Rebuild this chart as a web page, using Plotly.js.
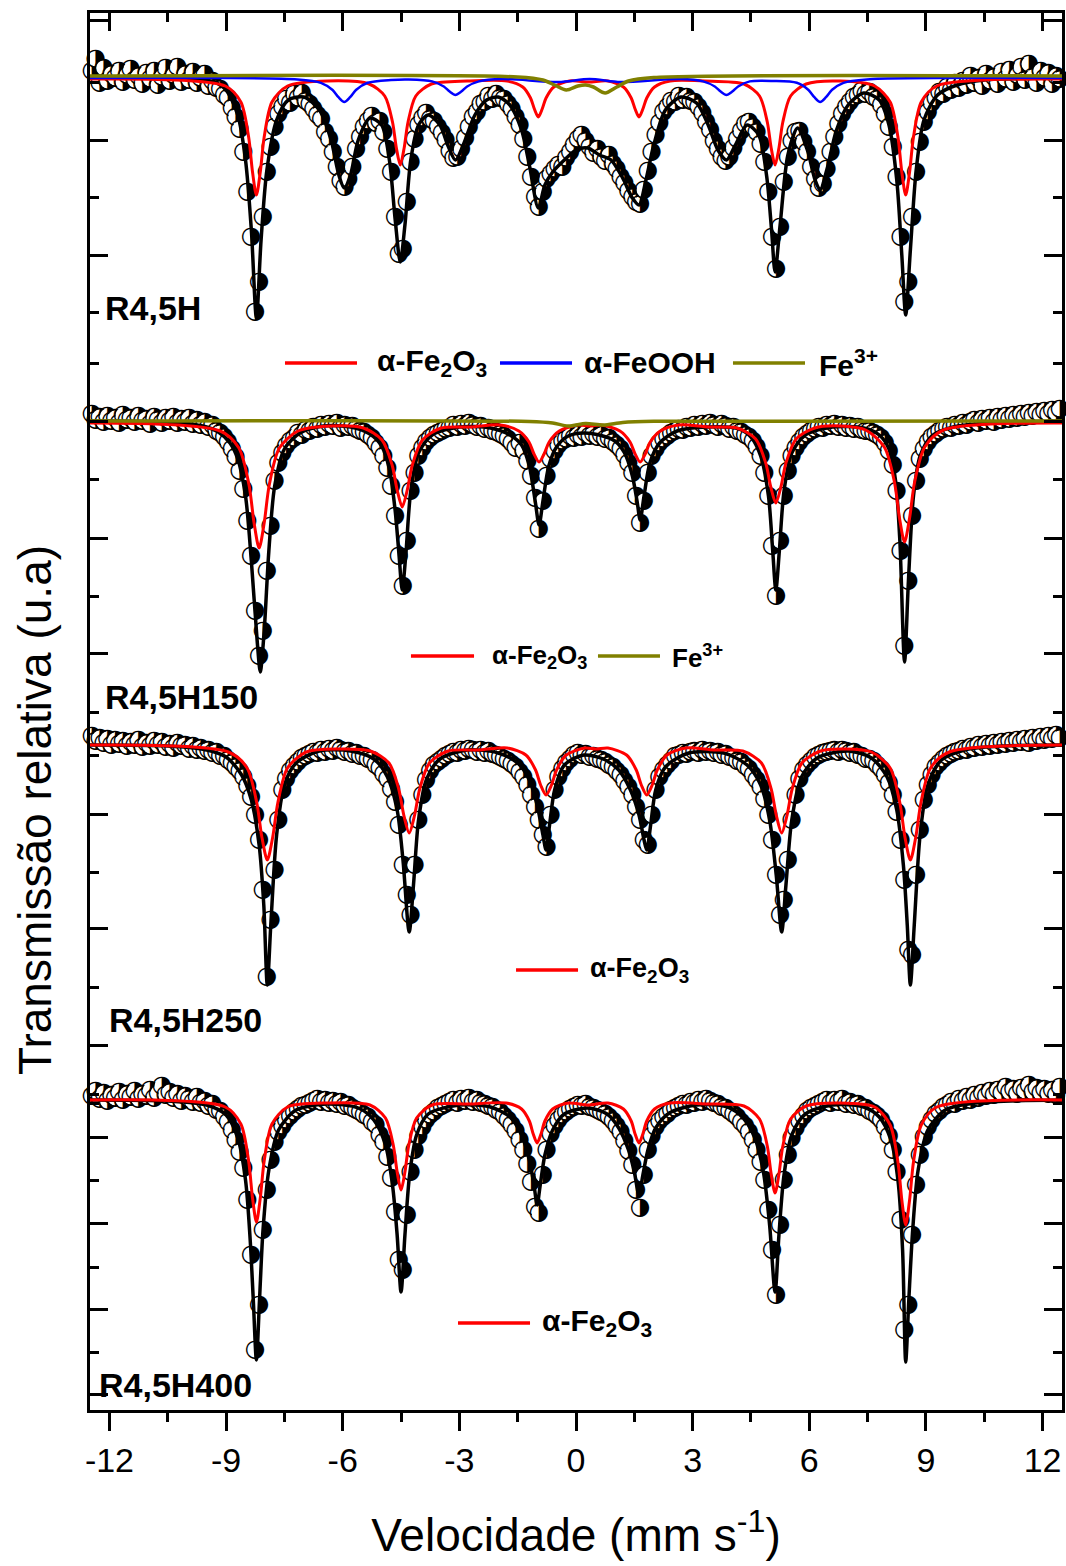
<!DOCTYPE html>
<html><head><meta charset="utf-8">
<script src="https://cdn.plot.ly/plotly-3.0.1.min.js"></script>
<style>body{margin:0;background:#fff}#chart{width:1066px;height:1566px}</style>
</head><body><div id="chart"></div>
<script>
// ---------- data (relative transmission, arbitrary units; baseline = 100) ----------
const velocity = [
-12.45,-12.35,-12.25,-12.15,-12.05,-11.95,-11.85,-11.75,-11.65,-11.55,
-11.45,-11.35,-11.25,-11.15,-11.05,-10.95,-10.85,-10.75,-10.65,-10.55,
-10.45,-10.35,-10.25,-10.15,-10.05,-9.95,-9.85,-9.75,-9.65,-9.55,
-9.45,-9.35,-9.25,-9.15,-9.05,-8.95,-8.85,-8.75,-8.65,-8.55,
-8.45,-8.35,-8.25,-8.15,-8.05,-7.95,-7.85,-7.75,-7.65,-7.55,
-7.45,-7.35,-7.25,-7.15,-7.05,-6.95,-6.85,-6.75,-6.65,-6.55,
-6.45,-6.35,-6.25,-6.15,-6.05,-5.95,-5.85,-5.75,-5.65,-5.55,
-5.45,-5.35,-5.25,-5.15,-5.05,-4.95,-4.85,-4.75,-4.65,-4.55,
-4.45,-4.35,-4.25,-4.15,-4.05,-3.95,-3.85,-3.75,-3.65,-3.55,
-3.45,-3.35,-3.25,-3.15,-3.05,-2.95,-2.85,-2.75,-2.65,-2.55,
-2.45,-2.35,-2.25,-2.15,-2.05,-1.95,-1.85,-1.75,-1.65,-1.55,
-1.45,-1.35,-1.25,-1.15,-1.05,-0.95,-0.85,-0.75,-0.65,-0.55,
-0.45,-0.35,-0.25,-0.15,-0.05,0.05,0.15,0.25,0.35,0.45,
0.55,0.65,0.75,0.85,0.95,1.05,1.15,1.25,1.35,1.45,
1.55,1.65,1.75,1.85,1.95,2.05,2.15,2.25,2.35,2.45,
2.55,2.65,2.75,2.85,2.95,3.05,3.15,3.25,3.35,3.45,
3.55,3.65,3.75,3.85,3.95,4.05,4.15,4.25,4.35,4.45,
4.55,4.65,4.75,4.85,4.95,5.05,5.15,5.25,5.35,5.45,
5.55,5.65,5.75,5.85,5.95,6.05,6.15,6.25,6.35,6.45,
6.55,6.65,6.75,6.85,6.95,7.05,7.15,7.25,7.35,7.45,
7.55,7.65,7.75,7.85,7.95,8.05,8.15,8.25,8.35,8.45,
8.55,8.65,8.75,8.85,8.95,9.05,9.15,9.25,9.35,9.45,
9.55,9.65,9.75,9.85,9.95,10.05,10.15,10.25,10.35,10.45,
10.55,10.65,10.75,10.85,10.95,11.05,11.15,11.25,11.35,11.45,
11.55,11.65,11.75,11.85,11.95,12.05,12.15,12.25,12.35,12.45];

const transR45H = [
100.6,101.8,99.4,100.9,99.6,100.3,99.9,100.6,99.5,100.2,
100.8,99.7,100.1,99.3,100.4,99.8,100.6,99.2,100.0,100.9,
99.6,100.2,101.0,99.5,100.3,99.7,100.5,99.4,99.9,100.3,
99.1,99.6,98.9,98.8,98.2,97.9,96.9,96.0,94.8,92.5,
88.5,84.0,76.5,79.5,86.0,90.5,93.0,95.0,96.3,97.0,
97.8,97.4,98.3,97.9,98.4,97.6,97.3,96.8,96.2,95.8,
94.5,93.8,92.5,91.0,89.6,89.0,89.8,91.0,92.8,94.0,
95.0,95.6,96.1,95.4,95.6,94.5,92.8,90.5,86.0,82.3,
82.8,87.5,91.5,93.8,95.2,95.9,96.4,95.8,95.6,95.0,
94.4,93.7,92.6,91.9,92.0,92.8,93.9,95.0,96.0,96.5,
97.3,97.5,98.1,97.8,98.3,97.9,97.8,97.3,96.8,96.0,
95.2,93.8,92.0,90.0,88.0,87.0,88.5,89.8,90.3,90.8,
91.2,91.0,91.9,92.5,93.2,93.8,94.2,93.6,93.0,92.4,
92.8,92.0,91.6,92.2,91.3,90.8,90.0,89.4,88.6,88.0,
87.5,87.3,88.7,90.6,92.5,94.2,95.4,96.5,97.0,97.6,
97.5,98.1,97.7,98.0,97.6,97.5,97.0,96.4,95.5,94.7,
93.6,92.8,92.0,91.6,92.0,92.9,93.8,94.6,95.3,95.5,
95.0,94.5,93.3,91.5,88.5,84.0,80.8,85.0,89.5,92.0,
93.6,94.5,94.6,93.5,92.5,91.0,89.8,88.9,89.3,90.8,
92.5,94.0,95.3,96.3,97.0,97.5,98.0,98.2,98.6,98.3,
98.5,98.0,97.8,97.2,96.3,95.0,93.0,90.0,84.0,77.5,
79.5,86.0,90.5,93.5,95.5,96.5,97.4,97.9,98.5,98.3,
99.0,98.7,99.4,98.9,99.6,99.2,100.1,99.4,99.9,99.1,
100.3,99.6,100.0,99.3,100.5,99.8,100.7,99.5,100.2,101.0,
99.7,101.3,100.0,99.4,100.6,99.9,100.4,99.3,100.1,99.8];

const transR45H150 = [
100.7,100.1,100.4,99.9,100.5,100.0,100.3,99.8,100.6,100.1,
100.3,99.9,100.5,100.0,100.2,99.7,100.4,100.1,99.8,100.3,
100.0,100.4,99.8,100.2,99.9,100.3,99.7,100.1,99.6,99.9,
99.4,99.6,99.0,98.8,98.4,97.9,97.2,96.4,95.0,93.2,
90.0,86.5,81.0,76.5,79.0,85.0,89.5,94.0,95.8,96.8,
97.5,98.0,98.3,98.8,98.6,99.1,99.0,99.4,99.2,99.6,
99.4,99.7,99.5,99.8,99.3,99.6,99.4,99.5,99.2,99.0,
98.9,98.6,98.3,97.8,97.3,96.5,95.3,93.5,90.5,86.5,
83.5,88.0,93.0,94.8,96.5,97.3,97.9,98.3,98.6,98.8,
99.0,99.2,99.3,99.6,99.4,99.7,99.5,99.8,99.6,99.4,
99.5,99.2,99.3,99.0,98.9,98.7,98.5,98.2,97.8,97.3,
97.8,97.0,96.0,94.5,92.3,89.2,92.0,94.5,96.2,97.0,
97.6,98.0,98.2,98.5,98.3,98.6,98.4,98.8,98.5,98.7,
98.4,98.6,98.2,98.3,97.9,97.6,97.2,96.6,95.8,94.8,
92.5,89.8,92.0,94.8,96.5,97.2,97.8,98.2,98.5,98.8,
99.0,99.2,99.1,99.4,99.3,99.6,99.4,99.7,99.5,99.8,
99.6,99.4,99.7,99.5,99.2,99.4,99.0,98.9,98.6,98.4,
98.0,97.4,96.5,94.8,92.5,87.5,82.5,88.0,92.5,95.0,
96.5,97.3,97.9,98.4,98.7,99.0,99.2,99.4,99.3,99.6,
99.5,99.7,99.4,99.6,99.3,99.5,99.2,99.4,99.1,99.0,
99.0,98.8,98.6,98.3,97.8,97.0,95.6,93.0,87.0,77.5,
84.0,90.5,94.0,96.2,97.2,97.9,98.4,98.7,99.0,99.2,
99.4,99.3,99.6,99.5,99.8,99.6,99.9,100.1,99.8,100.2,
100.0,100.3,99.9,100.4,100.1,100.5,100.2,100.6,100.3,100.7,
100.4,100.8,100.5,100.9,100.6,101.0,100.7,101.1,100.8,101.2];

const transR45H250 = [
100.9,100.4,100.7,100.2,100.6,100.0,100.5,100.1,100.4,99.9,
100.3,100.0,100.5,99.8,100.2,99.9,100.4,100.0,100.3,99.8,
100.1,99.7,100.2,99.9,100.0,99.6,99.9,99.5,99.7,99.4,
99.5,99.2,99.3,98.9,98.9,98.5,98.2,97.8,97.4,96.8,
95.9,94.8,93.0,90.5,85.5,76.8,82.5,87.5,92.5,95.5,
96.6,97.4,97.9,98.3,98.7,98.9,99.1,99.3,99.2,99.5,
99.3,99.6,99.4,99.7,99.5,99.3,99.4,99.1,99.2,98.9,
98.9,98.6,98.5,98.0,97.7,97.1,96.6,95.6,94.3,92.0,
88.0,85.0,83.0,88.0,92.5,95.0,96.5,97.4,98.0,98.3,
98.6,98.9,99.1,99.3,99.2,99.5,99.4,99.6,99.5,99.3,
99.5,99.2,99.4,99.1,99.0,98.8,98.6,98.4,98.1,97.8,
97.3,96.8,96.0,95.0,93.8,92.5,91.0,89.8,93.0,95.5,
96.8,97.6,98.2,98.6,99.0,99.2,99.0,99.1,98.8,98.9,
98.6,98.5,98.3,98.0,97.8,97.4,97.0,96.4,95.8,95.0,
93.8,92.5,90.5,90.0,93.0,95.5,96.8,97.5,98.0,98.4,
98.9,99.0,99.2,99.1,99.3,99.4,99.2,99.5,99.3,99.4,
99.2,99.3,99.0,99.1,98.8,98.7,98.4,98.3,97.9,97.6,
97.0,96.5,95.8,94.6,93.0,90.5,87.0,83.0,84.5,88.5,
92.5,95.0,96.6,97.5,98.0,98.4,98.8,99.0,99.2,99.3,
99.4,99.5,99.3,99.5,99.4,99.2,99.3,99.0,98.9,98.6,
98.6,98.4,98.0,97.6,97.0,96.2,95.0,93.3,90.5,86.5,
79.5,79.0,87.0,91.5,94.5,96.0,97.0,97.8,98.2,98.6,
98.9,99.1,99.3,99.4,99.6,99.5,99.8,99.7,100.0,99.8,
100.1,99.9,100.2,100.0,100.3,100.1,100.4,100.2,100.5,100.3,
100.6,100.2,100.7,100.4,100.8,100.5,100.9,100.6,101.0,100.7];

const transR45H400 = [
100.4,100.9,100.1,100.7,99.9,100.5,100.2,100.8,100.0,100.6,
100.3,100.9,100.1,100.6,100.4,101.0,100.2,100.7,101.4,100.5,
100.8,100.2,100.6,99.9,100.4,100.1,99.8,100.3,99.7,99.9,
99.4,99.6,99.0,98.9,98.3,97.8,97.0,96.0,94.8,93.2,
90.0,84.5,75.0,79.5,87.0,91.0,94.0,95.8,96.8,97.4,
98.0,98.4,98.8,99.1,99.4,99.5,99.7,99.9,100.1,99.8,
100.0,99.7,99.9,99.6,99.8,99.4,99.5,99.2,99.0,98.8,
98.5,98.3,97.8,97.5,96.5,95.8,94.3,92.2,88.8,84.0,
83.0,88.5,92.8,95.0,96.4,97.3,98.0,98.5,98.8,99.2,
99.4,99.6,99.8,100.0,99.7,100.1,99.9,100.2,99.8,100.0,
99.7,99.6,99.4,99.3,99.0,98.8,98.4,98.0,97.5,96.9,
96.0,95.0,93.6,91.8,89.3,88.7,92.5,95.0,96.6,97.4,
98.0,98.5,98.8,99.1,99.3,99.5,99.4,99.6,99.3,99.2,
99.0,98.8,98.6,98.3,97.9,97.4,96.8,95.9,94.9,93.5,
91.0,89.2,92.5,95.0,96.4,97.3,97.9,98.3,98.6,99.0,
99.2,99.4,99.6,99.5,99.8,99.7,100.0,99.8,100.1,99.9,
99.7,99.6,99.3,99.2,98.9,98.6,98.3,97.8,97.4,96.8,
96.0,95.0,93.8,92.0,89.0,85.0,80.5,87.5,92.0,94.5,
96.2,97.2,97.9,98.4,98.9,99.2,99.4,99.6,99.8,100.0,
99.7,100.0,99.8,100.1,99.6,99.8,99.5,99.6,99.3,99.2,
98.9,98.7,98.4,98.0,97.3,96.4,95.0,92.8,88.0,77.0,
79.5,86.5,91.5,94.5,96.3,97.3,98.0,98.6,98.9,99.3,
99.5,99.8,99.6,100.1,99.9,100.3,100.0,100.5,100.2,100.7,
100.4,100.9,100.5,101.0,100.7,101.3,100.8,101.1,100.6,101.2,
100.9,101.5,100.8,101.2,100.7,101.1,100.6,101.0,100.5,101.3];

// total fits (black)
const fitV_R45H = [-12.5,-10.0,-9.3,-9.0,-8.7,-8.5,-8.35,-8.22,-8.1,-7.95,-7.7,-7.4,-7.0,-6.6,-6.3,-6.1,-5.96,-5.8,-5.6,-5.3,-5.0,-4.8,-4.65,-4.52,-4.4,-4.25,-4.05,-3.8,-3.5,-3.3,-3.1,-2.9,-2.6,-2.3,-2.0,-1.7,-1.4,-1.2,-0.97,-0.8,-0.6,-0.3,0.0,0.3,0.6,0.9,1.2,1.45,1.62,1.8,2.0,2.3,2.7,3.1,3.4,3.65,3.87,4.1,4.4,4.7,4.9,5.03,5.12,5.25,5.45,5.7,5.95,6.15,6.28,6.45,6.7,7.0,7.4,7.8,8.05,8.25,8.38,8.48,8.6,8.75,8.95,9.3,9.8,10.5,12.5];
const fitT_R45H = [100,99.9,99.5,98.7,96.2,91.7,84.7,75.9,83.7,90.7,95.7,97.7,98.0,96.7,93.7,90.2,88.9,90.2,93.7,95.9,95.2,91.7,85.7,81.5,85.2,91.7,95.2,96.2,95.2,93.2,91.7,93.2,96.2,97.7,98.0,97.2,94.7,91.2,86.9,89.2,90.5,91.7,92.7,92.9,92.2,91.7,89.9,87.9,87.2,89.7,93.2,96.7,98.0,97.4,95.2,92.7,91.7,93.2,95.2,94.2,90.2,84.7,80.5,85.2,92.2,94.9,92.7,89.7,88.7,90.7,94.7,97.2,98.4,97.7,95.2,89.7,82.2,76.2,82.7,90.7,95.7,98.2,99.2,99.7,99.9];

const fitV_R45H150 = [-12.5,-10.5,-9.6,-9.2,-8.9,-8.7,-8.5,-8.35,-8.2,-8.12,-8.02,-7.9,-7.75,-7.5,-7.1,-6.5,-5.8,-5.3,-5.0,-4.8,-4.65,-4.55,-4.47,-4.38,-4.25,-4.05,-3.7,-3.0,-2.2,-1.7,-1.4,-1.2,-1.05,-0.95,-0.85,-0.7,-0.5,-0.2,0.2,0.6,1.0,1.25,1.45,1.57,1.65,1.75,1.9,2.15,2.6,3.4,4.2,4.5,4.75,4.95,5.06,5.14,5.23,5.35,5.55,5.9,6.6,7.4,7.8,8.05,8.22,8.33,8.45,8.55,8.68,8.85,9.15,9.7,10.6,12.5];
const fitT_R45H150 = [100.0,99.9,99.5,98.9,97.8,96.2,92.5,86.0,78.0,74.9,79.0,87.0,93.5,97.2,98.8,99.5,99.4,98.7,97.5,95.2,91.0,86.5,83.1,86.5,93.0,96.8,98.6,99.4,99.3,98.6,97.6,95.5,92.0,89.6,92.0,95.5,97.4,98.5,98.8,98.6,98.0,96.8,94.5,92.0,90.1,92.5,95.8,97.8,99.0,99.4,99.2,98.4,96.5,92.5,87.0,83.1,87.0,93.0,96.8,98.6,99.4,99.3,98.6,97.2,94.0,88.0,75.9,84.0,92.5,96.5,98.5,99.4,99.8,100.0];

const fitV_R45H250 = [-12.5,-10.5,-9.5,-9.0,-8.6,-8.35,-8.15,-8.03,-7.94,-7.85,-7.7,-7.5,-7.2,-6.6,-5.8,-5.2,-4.85,-4.6,-4.45,-4.29,-4.18,-4.05,-3.85,-3.5,-2.8,-2.0,-1.5,-1.2,-1.0,-0.85,-0.77,-0.68,-0.55,-0.3,0.2,0.7,1.1,1.4,1.62,1.75,1.82,1.92,2.05,2.3,2.9,3.8,4.4,4.75,4.98,5.15,5.29,5.4,5.55,5.8,6.2,7.0,7.6,8.0,8.25,8.42,8.52,8.6,8.7,8.85,9.05,9.4,10.0,11.0,12.5];
const fitT_R45H250 = [100.0,99.9,99.5,98.8,97.0,94.5,90.0,84.0,76.0,82.0,91.0,96.0,98.2,99.4,99.4,98.6,96.8,93.5,88.5,81.3,86.0,92.5,96.5,98.6,99.5,99.2,98.2,96.5,94.0,91.0,89.5,92.0,95.5,98.0,99.0,98.6,97.5,95.5,93.0,90.5,89.5,92.0,95.5,97.8,99.2,99.2,98.0,96.0,92.5,87.0,81.3,86.0,92.5,96.8,98.7,99.4,98.7,96.8,93.5,88.0,82.0,76.0,82.0,91.0,96.0,98.5,99.5,99.9,100.0];

const fitV_R45H400 = [-12.5,-10.5,-9.5,-9.0,-8.7,-8.5,-8.38,-8.3,-8.22,-8.14,-8.05,-7.9,-7.65,-7.2,-6.4,-5.6,-5.2,-4.9,-4.72,-4.6,-4.5,-4.4,-4.28,-4.1,-3.8,-3.0,-2.2,-1.7,-1.4,-1.2,-1.08,-1.0,-0.92,-0.8,-0.6,-0.3,0.3,0.8,1.1,1.35,1.5,1.62,1.72,1.85,2.05,2.4,3.1,3.9,4.3,4.6,4.82,4.98,5.12,5.22,5.35,5.55,5.9,6.6,7.4,7.8,8.1,8.28,8.4,8.48,8.56,8.66,8.8,9.05,9.5,10.3,12.5];
const fitT_R45H400 = [100.0,99.9,99.5,98.5,96.2,92.0,86.0,80.0,74.0,80.0,87.0,93.0,97.0,99.0,99.6,99.2,98.0,95.5,91.5,86.5,80.8,86.5,92.5,96.5,98.6,99.5,99.3,98.3,96.5,94.0,91.5,89.5,91.5,94.5,97.0,98.6,99.2,98.6,97.2,95.0,92.8,90.5,92.5,95.0,97.2,98.7,99.5,99.3,98.2,96.2,92.8,87.5,80.8,86.5,92.5,96.5,98.6,99.5,99.3,98.3,96.0,92.0,85.0,73.8,80.0,87.0,93.0,97.0,99.0,99.7,100.0];

// hematite sub-spectra (red)
const hemV_R45H = [-12.5,-9.02,-8.62,-8.42,-8.32,-8.22,-8.12,-8.02,-7.82,-7.42,-6.4,-5.32,-4.92,-4.72,-4.62,-4.52,-4.42,-4.32,-4.12,-3.72,-2.8,-1.77,-1.37,-1.17,-1.07,-0.97,-0.87,-0.77,-0.57,-0.17,0.33,0.82,1.22,1.42,1.52,1.62,1.72,1.82,2.02,2.42,3.3,4.32,4.72,4.92,5.02,5.12,5.22,5.32,5.52,5.92,6.8,7.68,8.08,8.28,8.38,8.48,8.58,8.68,8.88,9.28,12.5];
const hemT_R45H = [99.8,99.1,97.5,94.0,90.5,88.2,90.5,94.0,97.5,99.1,99.6,99.3,98.1,95.5,92.9,91.2,92.9,95.5,98.1,99.3,99.6,99.6,99.0,97.9,96.8,96.0,96.8,97.9,99.0,99.6,99.5,99.6,99.0,97.9,96.8,96.0,96.8,97.9,99.0,99.6,99.6,99.3,98.1,95.5,92.9,91.2,92.9,95.5,98.1,99.3,99.6,99.1,97.5,94.0,90.5,88.2,90.5,94.0,97.5,99.1,99.8];

const hemV_R45H150 = [-12.5,-9.15,-8.67,-8.41,-8.28,-8.15,-8.02,-7.89,-7.63,-7.15,-6.3,-5.47,-4.99,-4.73,-4.6,-4.47,-4.34,-4.21,-3.95,-3.47,-2.7,-1.95,-1.47,-1.21,-1.08,-0.95,-0.82,-0.69,-0.43,0.05,0.35,0.65,1.13,1.39,1.52,1.65,1.78,1.91,2.17,2.65,3.4,4.14,4.62,4.88,5.01,5.14,5.27,5.4,5.66,6.14,6.8,7.45,7.93,8.19,8.32,8.45,8.58,8.71,8.97,9.45,12.5];
const hemT_R45H150 = [99.8,99.0,97.3,93.6,89.8,87.3,89.8,93.6,97.3,99.0,99.5,99.3,98.1,95.6,93.1,91.4,93.1,95.6,98.1,99.3,99.4,99.6,99.0,97.9,96.7,95.9,96.7,97.9,99.0,99.6,99.5,99.6,99.0,97.9,96.7,95.9,96.7,97.9,99.0,99.6,99.4,99.3,98.2,95.8,93.4,91.8,93.4,95.8,98.2,99.3,99.5,99.1,97.4,93.9,90.3,87.9,90.3,93.9,97.4,99.1,99.8];

const hemV_R45H250 = [-12.5,-8.94,-8.46,-8.21,-8.08,-7.94,-7.8,-7.67,-7.42,-6.94,-6.1,-5.29,-4.81,-4.56,-4.43,-4.29,-4.15,-4.02,-3.77,-3.29,-2.5,-1.77,-1.29,-1.04,-0.91,-0.77,-0.63,-0.5,-0.25,0.23,0.52,0.82,1.3,1.55,1.68,1.82,1.96,2.09,2.34,2.82,3.55,4.29,4.77,5.02,5.15,5.29,5.43,5.56,5.81,6.29,6.95,7.6,8.08,8.33,8.46,8.6,8.74,8.87,9.12,9.6,12.5];
const hemT_R45H250 = [100,99.3,97.7,94.2,90.8,88.5,90.8,94.2,97.7,99.3,99.6,99.4,98.2,95.6,93.0,91.2,93.0,95.6,98.2,99.4,99.5,99.7,99.0,97.5,96.0,95.0,96.0,97.5,99.0,99.7,99.6,99.7,99.0,97.5,96.0,95.0,96.0,97.5,99.0,99.7,99.5,99.4,98.2,95.6,93.0,91.2,93.0,95.6,98.2,99.4,99.6,99.3,97.7,94.2,90.8,88.5,90.8,94.2,97.7,99.3,100];

const hemV_R45H400 = [-12.5,-9.02,-8.62,-8.42,-8.32,-8.22,-8.12,-8.02,-7.82,-7.42,-6.4,-5.3,-4.9,-4.7,-4.6,-4.5,-4.4,-4.3,-4.1,-3.7,-2.75,-1.8,-1.4,-1.2,-1.1,-1.0,-0.9,-0.8,-0.6,-0.2,0.31,0.82,1.22,1.42,1.52,1.62,1.72,1.82,2.02,2.42,3.37,4.32,4.72,4.92,5.02,5.12,5.22,5.32,5.52,5.92,6.8,7.68,8.08,8.28,8.38,8.48,8.58,8.68,8.88,9.28,12.5];
const hemT_R45H400 = [100,99.3,97.6,93.9,90.2,87.8,90.2,93.9,97.6,99.3,99.7,99.5,98.2,95.5,92.8,91.0,92.8,95.5,98.2,99.5,99.6,99.7,99.1,97.9,96.6,95.7,96.6,97.9,99.1,99.7,99.5,99.7,99.1,97.9,96.6,95.7,96.6,97.9,99.1,99.7,99.6,99.4,98.1,95.4,92.6,90.7,92.6,95.4,98.1,99.4,99.7,99.3,97.5,93.8,90.0,87.5,90.0,93.8,97.5,99.3,100];

// goethite sub-spectrum (blue), R4,5H only
const goeV_R45H = [-12.5,-7.16,-6.56,-6.26,-6.11,-5.96,-5.81,-5.66,-5.36,-4.76,-4.3,-3.7,-3.4,-3.25,-3.1,-2.95,-2.8,-2.5,-1.9,-0.45,0.35,1.15,2.67,3.27,3.57,3.72,3.87,4.02,4.17,4.47,5.07,5.68,5.98,6.13,6.28,6.43,6.58,6.88,7.48,12.5];
const goeT_R45H = [99.9,99.76,99.42,98.7,97.98,97.5,97.98,98.7,99.42,99.7,99.75,99.56,99.05,98.54,98.2,98.54,99.05,99.56,99.8,99.5,99.8,99.5,99.8,99.56,99.05,98.54,98.2,98.54,99.05,99.56,99.6,99.42,98.7,97.98,97.5,97.98,98.7,99.42,99.76,99.9];

// Fe3+ doublet (olive)
const dubV_R45H = [-12.5,-1.5,-0.85,-0.55,-0.25,0.05,0.25,0.45,0.75,1.05,1.35,2.0,12.5];
const dubT_R45H = [100.1,100.0,99.7,99.2,98.7,99.1,99.2,99.0,98.4,99.0,99.6,99.95,100.1];
const dubV_R45H150 = [-12.5,-1.2,-0.6,-0.2,0.25,0.7,1.2,2.0,12.5];
const dubT_R45H150 = [100.0,99.95,99.8,99.5,99.75,99.6,99.85,99.97,100.0];

// axis tick labels
const xTickVals = [-12,-9,-6,-3,0,3,6,9,12];
const xTickText = ['-12','-9','-6','-3','0','3','6','9','12'];
const xMinorVals = [-10.5,-7.5,-4.5,-1.5,1.5,4.5,7.5,10.5];

// ---------- styles ----------
const RED='#ff0000', BLUE='#0000ff', OLIVE='#808000', BLACK='#000000';
const FONT='Liberation Sans, Arial, sans-serif';

// each measured point: white disc + half-filled circle glyph, drawn in channel order
// so that every point covers the one before it (as in the original plot)
function dataTraces(y, ax){
  return velocity.map((v,i)=>({type:'scatter', mode:'markers+text', x:[v], y:[y[i]], yaxis:ax,
    marker:{symbol:'circle', size:15, color:'#ffffff', line:{width:0}},
    text:['\u25D1'], textposition:'middle center',
    textfont:{family:'DejaVu Sans', size:24, color:BLACK},
    cliponaxis:false, hoverinfo:'skip', showlegend:false}));
}
function lineTrace(x, y, ax, color, width){
  return {type:'scatter', mode:'lines', x:x, y:y, yaxis:ax,
    line:{color:color, width:width, shape:'spline', smoothing:0.8},
    hoverinfo:'skip', showlegend:false};
}

const traces = [].concat(
  dataTraces(transR45H,'y'),
  [lineTrace(fitV_R45H, fitT_R45H,'y',BLACK,3.5),
   lineTrace(hemV_R45H, hemT_R45H,'y',RED,3),
   lineTrace(goeV_R45H, goeT_R45H,'y',BLUE,2.5),
   lineTrace(dubV_R45H, dubT_R45H,'y',OLIVE,3.5)],

  dataTraces(transR45H150,'y2'),
  [lineTrace(fitV_R45H150, fitT_R45H150,'y2',BLACK,3.5),
   lineTrace(hemV_R45H150, hemT_R45H150,'y2',RED,3),
   lineTrace(dubV_R45H150, dubT_R45H150,'y2',OLIVE,3.5)],

  dataTraces(transR45H250,'y3'),
  [lineTrace(fitV_R45H250, fitT_R45H250,'y3',BLACK,3.5),
   lineTrace(hemV_R45H250, hemT_R45H250,'y3',RED,3)],

  dataTraces(transR45H400,'y4'),
  [lineTrace(fitV_R45H400, fitT_R45H400,'y4',BLACK,3.5),
   lineTrace(hemV_R45H400, hemT_R45H400,'y4',RED,3)],

  [{type:'scatter', mode:'lines', x:[], y:[], xaxis:'x2', yaxis:'y', showlegend:false, hoverinfo:'skip'}]
);

function yAx(range, majors, minors, main){
  const a = {range:range, tickmode:'array', tickvals:majors, ticks:'inside', ticklen:18, tickwidth:3, tickcolor:BLACK,
    minor:{tickmode:'array', tickvals:minors, ticks:'inside', ticklen:9, tickwidth:3, tickcolor:BLACK},
    showticklabels:false, showgrid:false, zeroline:false,
    showline:true, linewidth:3, linecolor:BLACK, mirror:'ticks', fixedrange:true};
  if(!main){ a.overlaying='y'; }
  return a;
}

// paper-coordinate helpers for legend keys / labels
const legendLine = (x0,x1,y,color)=>({type:'line', xref:'paper', yref:'paper', x0:x0, x1:x1, y0:y, y1:y, line:{color:color, width:3.5}});
const note = (text,x,y,size,extra)=>Object.assign({text:text, xref:'paper', yref:'paper', x:x, y:y, xanchor:'left', yanchor:'middle', showarrow:false, font:{family:FONT, size:size, color:BLACK}}, extra||{});

const layout = {
  width:1066, height:1566,
  margin:{l:90, r:4, t:13, b:156, pad:0},
  paper_bgcolor:'#ffffff', plot_bgcolor:'#ffffff',
  showlegend:false, hovermode:false,
  font:{family:FONT, color:BLACK},
  xaxis:{range:[-12.5,12.5], tickmode:'array', tickvals:xTickVals, ticktext:xTickText,
    ticks:'outside', ticklen:18, tickwidth:3, tickcolor:BLACK,
    minor:{tickmode:'array', tickvals:xMinorVals, ticks:'outside', ticklen:9, tickwidth:3, tickcolor:BLACK},
    showline:true, linewidth:3, linecolor:BLACK, mirror:true, showgrid:false, zeroline:false,
    tickfont:{family:FONT, size:34, color:BLACK}, fixedrange:true,
    title:{text:'Velocidade (mm s<sup>-1</sup>)', font:{family:FONT, size:46, color:BLACK}, standoff:42}},
  xaxis2:{overlaying:'x', side:'top', range:[-12.5,12.5], tickmode:'array', tickvals:xTickVals,
    showticklabels:false, ticks:'inside', ticklen:18, tickwidth:3, tickcolor:BLACK,
    minor:{tickmode:'array', tickvals:xMinorVals, ticks:'inside', ticklen:9, tickwidth:3, tickcolor:BLACK},
    showline:false, showgrid:false, zeroline:false, fixedrange:true},
  yaxis:  yAx([-33.3,106.4], [105.7,93.7,82.2], [99.45,87.95,76.45], true),
  yaxis2: yAx([1.1,140.8], [100,88.3,76.8], [105.8,94.2,82.5,70.9], false),
  yaxis3: yAx([33.5,173.2], [93.1,81.7,70.0], [99.0,87.3,75.8,64.2], false),
  yaxis4: yAx([69.0,208.7], [96.3,87.7,79.1,70.6], [100.6,92.0,83.3,74.8], false),
  shapes:[
    legendLine(0.2006,0.2747,0.7495,RED),
    legendLine(0.4218,0.4959,0.7495,BLUE),
    legendLine(0.6615,0.7356,0.7495,OLIVE),
    legendLine(0.3302,0.3951,0.5397,RED),
    legendLine(0.5226,0.5864,0.5397,OLIVE),
    legendLine(0.4383,0.5021,0.3150,RED),
    legendLine(0.3786,0.4527,0.0623,RED)
  ],
  annotations:[
    note('<b>R4,5H</b>',0.0134,0.7888,34),
    note('<b>R4,5H150</b>',0.0134,0.5104,34),
    note('<b>R4,5H250</b>',0.0175,0.2792,34),
    note('<b>R4,5H400</b>',0.0072,0.0179,34),
    note('<b>α-Fe<sub>2</sub>O<sub>3</sub></b>',0.2932,0.7495,30),
    note('<b>α-FeOOH</b>',0.5062,0.7495,30),
    note('<b>Fe<sup>3+</sup></b>',0.7479,0.7495,30),
    note('<b>α-Fe<sub>2</sub>O<sub>3</sub></b>',0.4115,0.5397,26),
    note('<b>Fe<sup>3+</sup></b>',0.5967,0.5397,26),
    note('<b>α-Fe<sub>2</sub>O<sub>3</sub></b>',0.5123,0.3150,27),
    note('<b>α-Fe<sub>2</sub>O<sub>3</sub></b>',0.4630,0.0623,30),
    note('Transmissão relativa (u.a)',-0.0566,0.4295,46,{xanchor:'center', textangle:-90})
  ]
};

Plotly.newPlot('chart', traces, layout, {displayModeBar:false, staticPlot:true});
</script>
</body></html>
